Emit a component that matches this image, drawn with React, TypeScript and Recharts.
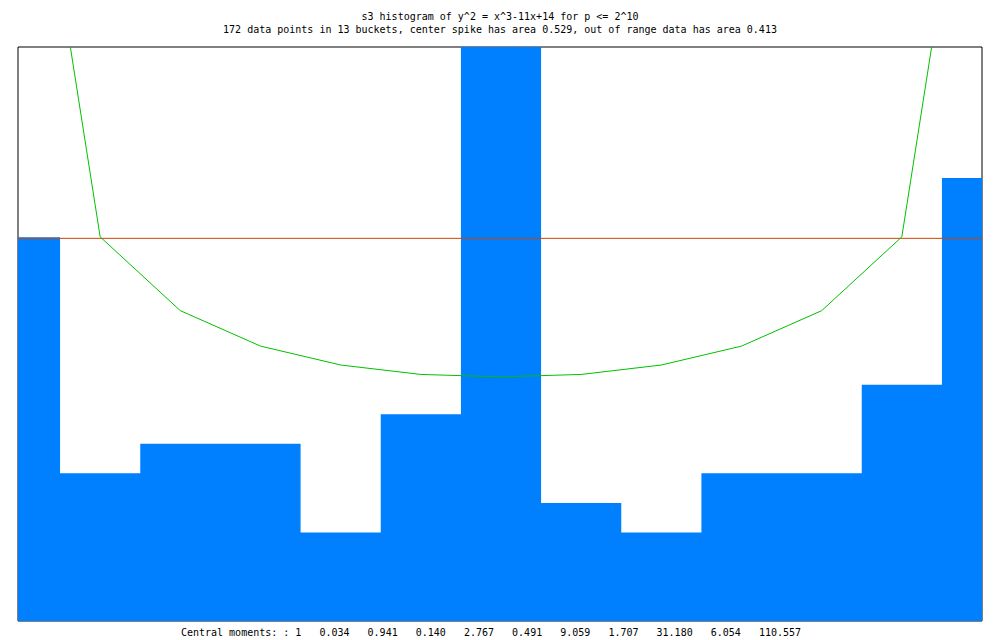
import React from "react";
import { ComposedChart, Area, Line, XAxis, YAxis, ReferenceLine, ReferenceArea } from "recharts";

const titleLine1 = "s3 histogram of y^2 = x^3-11x+14 for p <= 2^10";
const titleLine2 = "172 data points in 13 buckets, center spike has area 0.529, out of range data has area 0.413";
const momentLabel = "Central moments: : 1";
const moments = ["0.034", "0.941", "0.140", "2.767", "0.491", "9.059", "1.707", "31.180", "6.054", "110.557"];

// bucket centers (bucket units), counts per bucket
const bucketCenters = [-6, -5, -4, -3, -2, -1, 0, 1, 2, 3, 4, 5, 6];
const bucketCounts = [13, 5, 6, 6, 3, 7, 24, 4, 3, 5, 5, 8, 15];
// expected density curve at bucket centers
const curveValues = [30.3, 13.01, 10.51, 9.31, 8.67, 8.35, 8.27, 8.35, 8.67, 9.31, 10.51, 13.01, 30.3];
const uniformLevel = 12.96;

const X_MIN = -6.025;
const X_MAX = 6;
const Y_MAX = 19.44;

const histData = [
  ...bucketCenters.map((c, i) => ({ x: Math.max(c - 0.5, X_MIN), count: bucketCounts[i] })),
  { x: X_MAX, count: bucketCounts[bucketCounts.length - 1] },
];
const curveData = bucketCenters.map((c, i) => ({ x: c, density: curveValues[i] }));

const font = '"DejaVu Sans Mono", monospace';

const textStyle: React.CSSProperties = {
  position: "absolute",
  left: 0,
  width: 1000,
  textAlign: "center",
  fontFamily: font,
  fontSize: 10,
  lineHeight: "12px",
  whiteSpace: "pre",
  color: "#000",
};

export default function App() {
  const bottomText = momentLabel + moments.map((m) => "   " + m).join("");
  return (
    <div style={{ position: "absolute", left: 0, top: 0, width: 1000, height: 640, background: "#fff" }}>
      <ComposedChart
        width={1000}
        height={640}
        margin={{ top: 47, right: 18, bottom: 19, left: 18 }}
      >
        <XAxis type="number" dataKey="x" domain={[X_MIN, X_MAX]} allowDataOverflow hide />
        <YAxis type="number" domain={[0, Y_MAX]} allowDataOverflow hide />
        <ReferenceArea x1={X_MIN} x2={X_MAX} y1={0} y2={Y_MAX} fill="none" stroke="#000" strokeWidth={1} fillOpacity={0} />
        <Area
          data={histData}
          dataKey="count"
          type="stepAfter"
          fill="#0080ff"
          fillOpacity={1}
          stroke="none"
          isAnimationActive={false}
        />
        <ReferenceLine y={uniformLevel} stroke="#cc4400" strokeWidth={1} />
        <Line
          data={curveData}
          dataKey="density"
          type="linear"
          stroke="#00c000"
          strokeWidth={1}
          dot={false}
          activeDot={false}
          isAnimationActive={false}
        />
      </ComposedChart>
      <div style={{ ...textStyle, top: 11 }}>{titleLine1}</div>
      <div style={{ ...textStyle, top: 24 }}>{titleLine2}</div>
      <div style={{ ...textStyle, top: 627, left: -9 }}>{bottomText}</div>
    </div>
  );
}
